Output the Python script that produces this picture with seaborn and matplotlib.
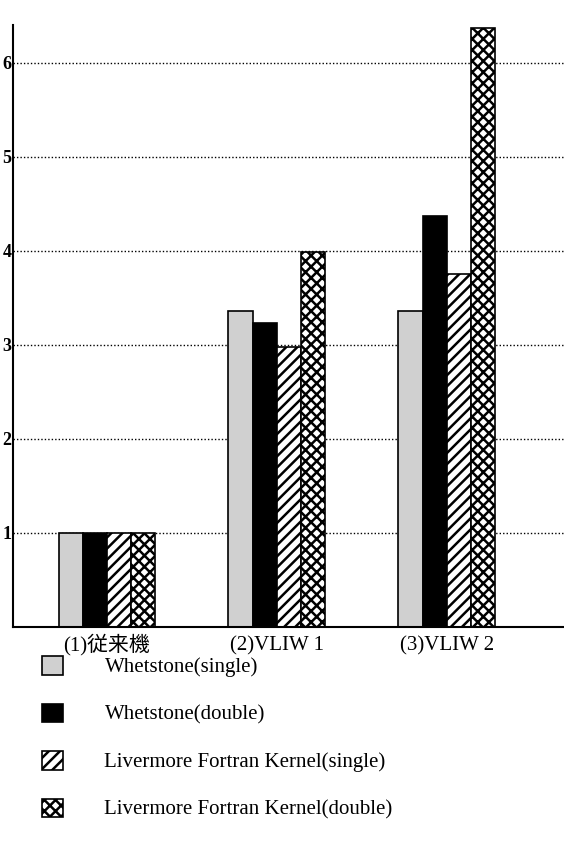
import seaborn as sns
import matplotlib.pyplot as plt
import pandas as pd

plt.rcParams['figure.dpi'] = 100
plt.rcParams['savefig.dpi'] = 100
plt.rcParams['hatch.linewidth'] = 1.8

sns.set_style("white")
plt.rcParams['font.family'] = ['Liberation Serif', 'Noto Sans CJK JP', 'DejaVu Sans']
plt.rcParams['text.color'] = 'black'
plt.rcParams['xtick.color'] = 'black'
plt.rcParams['ytick.color'] = 'black'

machines = ['(1)従来機', '(2)VLIW 1', '(3)VLIW 2']
benchmarks = ['Whetstone(single)', 'Whetstone(double)',
              'Livermore Fortran Kernel(single)', 'Livermore Fortran Kernel(double)']
whet_single = [1.0, 3.36, 3.36]
whet_double = [1.0, 3.23, 4.37]
lfk_single = [1.0, 2.98, 3.75]
lfk_double = [1.0, 3.99, 6.37]

rows = []
for b, vals in zip(benchmarks, [whet_single, whet_double, lfk_single, lfk_double]):
    for m, v in zip(machines, vals):
        rows.append({'machine': m, 'benchmark': b, 'ratio': v})
df = pd.DataFrame(rows)

fig = plt.figure(figsize=(5.64, 8.41))
ax = fig.add_axes([0.023, 0.2545, 0.977, 0.7155])

sns.barplot(data=df, x='machine', y='ratio', hue='benchmark', hue_order=benchmarks,
            order=machines, width=0.57, gap=0, ax=ax, legend=False,
            edgecolor='black', linewidth=1.2)

# light stipple, solid black, diagonal hatch, cross hatch
styles = [('#d0d0d0', ''), ('black', ''), ('white', '///'), ('white', 'xxx')]
for cont, (fc, h) in zip(ax.containers, styles):
    for bar in cont:
        bar.set_facecolor(fc)
        bar.set_hatch(h)
        bar.set_edgecolor('black')

ax.set_xlim(-0.553, 2.69)
ax.set_ylim(0, 6.4)
ax.set_yticks([1, 2, 3, 4, 5, 6])
ax.set_yticklabels(['1', '2', '3', '4', '5', '6'], fontsize=13, fontweight='bold')
ax.tick_params(axis='y', length=0, pad=1)
ax.tick_params(axis='x', length=0, pad=17, labelsize=15)
for lab in ax.get_xticklabels():
    lab.set_verticalalignment('baseline')
ax.yaxis.grid(True, linestyle=(0, (1, 1.5)), color='black', linewidth=1.0)
ax.set_axisbelow(True)
for s in ['top', 'right']:
    ax.spines[s].set_visible(False)
for s in ['left', 'bottom']:
    ax.spines[s].set_color('black')
    ax.spines[s].set_linewidth(1.5)
ax.set_xlabel('')
ax.set_ylabel('')

fig.legend(ax.containers, benchmarks, loc='upper left',
           bbox_to_anchor=(42 / 564, 1 - 656 / 841), frameon=False,
           borderaxespad=0, borderpad=0, fontsize=15,
           handlelength=1.0, handleheight=1.0, handletextpad=2.0,
           labelspacing=1.25)

plt.savefig("out.png")
